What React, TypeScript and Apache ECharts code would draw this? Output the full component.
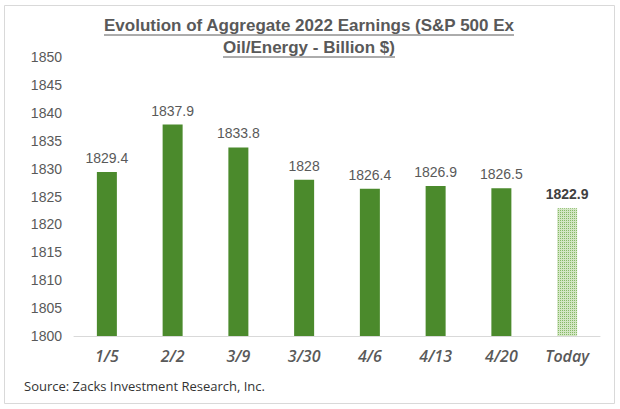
import React, { useEffect, useRef } from "react";
import * as echarts from "echarts";

const categories = ["1/5", "2/2", "3/9", "3/30", "4/6", "4/13", "4/20", "Today"];
const values = [1829.4, 1837.9, 1833.8, 1828, 1826.4, 1826.9, 1826.5, 1822.9];
const yMin = 1800;
const yMax = 1850;
const yStep = 5;
const titleLines = ["Evolution of Aggregate 2022 Earnings (S&P 500 Ex", "Oil/Energy - Billion $)"];
const sourceText = "Source: Zacks Investment Research, Inc.";

export default function App() {
  const ref = useRef<HTMLDivElement>(null);
  useEffect(() => {
    if (!ref.current) return;
    const chart = echarts.init(ref.current, undefined, { renderer: "svg" });
    const last = values.length - 1;
    const data = values.map((v, i) =>
      i === last
        ? {
            value: v,
            itemStyle: {
              color: "#d3e6c4",
              decal: {
                symbol: "rect",
                symbolSize: 1,
                color: "#86b966",
                dashArrayX: [1, 1],
                dashArrayY: [1, 1],
                rotation: 0,
              },
            },
            label: { fontWeight: "bold", color: "#404040", fontSize: 14 },
          }
        : { value: v }
    );
    const titleFont = "bold 17px 'Liberation Sans', Arial, sans-serif";
    chart.setOption({
      animation: false,
      backgroundColor: "#ffffff",
      grid: { left: 74, right: 20, top: 57, bottom: 73 },
      xAxis: {
        type: "category",
        data: categories,
        axisLine: { lineStyle: { color: "#d9d9d9", width: 1 } },
        axisTick: { show: false },
        axisLabel: {
          color: "#595959",
          fontSize: 16,
          fontStyle: "italic",
          fontWeight: 600,
          fontFamily: "'Open Sans', Arial, sans-serif",
          margin: 12,
        },
      },
      yAxis: {
        type: "value",
        min: yMin,
        max: yMax,
        interval: yStep,
        splitLine: { show: false },
        axisLine: { show: false },
        axisTick: { show: false },
        axisLabel: {
          color: "#595959",
          fontSize: 14,
          fontFamily: "'Liberation Sans', Arial, sans-serif",
          margin: 12,
          formatter: (v: number) => String(v),
        },
      },
      series: [
        {
          type: "bar",
          data,
          barWidth: 20,
          itemStyle: { color: "#4b8a2c" },
          label: {
            show: true,
            position: "top",
            distance: 7,
            color: "#595959",
            fontSize: 14,
            fontFamily: "'Liberation Sans', Arial, sans-serif",
          },
        },
      ],
      graphic: [
        {
          type: "rect",
          shape: { x: 4.5, y: 5.5, width: 610, height: 398 },
          style: { fill: "none", stroke: "#d9d9d9", lineWidth: 1 },
          silent: true,
        },
        {
          type: "text",
          x: 309,
          y: 25,
          style: {
            text: titleLines[0],
            font: titleFont,
            fill: "#595959",
            align: "center",
            verticalAlign: "middle",
          },
        },
        {
          type: "line",
          shape: { x1: 104, y1: 35, x2: 514, y2: 35 },
          style: { stroke: "#595959", lineWidth: 1 },
        },
        {
          type: "text",
          x: 309,
          y: 47,
          style: {
            text: titleLines[1],
            font: titleFont,
            fill: "#595959",
            align: "center",
            verticalAlign: "middle",
          },
        },
        {
          type: "line",
          shape: { x1: 223, y1: 57, x2: 395, y2: 57 },
          style: { stroke: "#595959", lineWidth: 1 },
        },
        {
          type: "text",
          x: 24,
          y: 386,
          style: {
            text: sourceText,
            font: "13px 'Open Sans', 'Liberation Sans', sans-serif",
            fill: "#333333",
            align: "left",
            verticalAlign: "middle",
          },
        },
      ],
    });
    return () => chart.dispose();
  }, []);
  return (
    <div
      ref={ref}
      style={{ position: "fixed", left: 0, top: 0, width: 620, height: 409 }}
    />
  );
}
